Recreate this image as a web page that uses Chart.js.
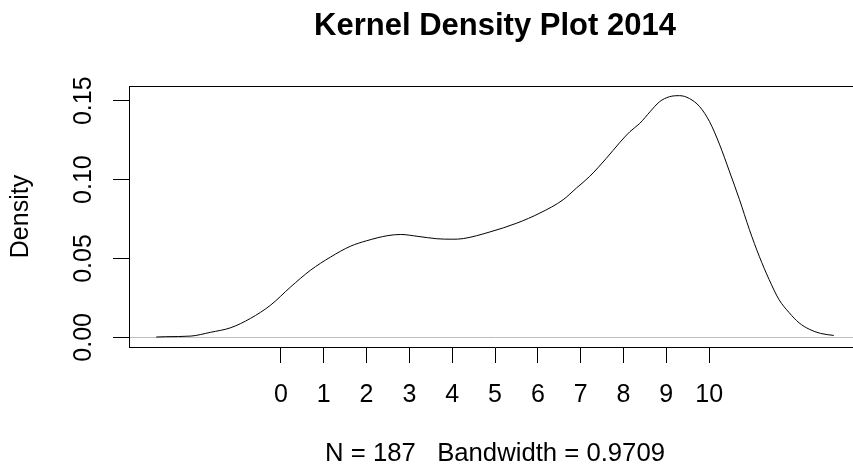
<!DOCTYPE html>
<html><head><meta charset="utf-8">
<script src="https://cdn.jsdelivr.net/npm/chart.js@4.4.1/dist/chart.umd.min.js"></script>
<style>html,body{margin:0;padding:0;background:#fff;overflow:hidden}#wrap{width:853px;height:468px;overflow:hidden}canvas{display:block}</style>
</head><body>
<div id="wrap"><canvas id="c" width="861" height="468"></canvas></div>
<script>
const titleText = 'Kernel Density Plot 2014';
const subtitleText = 'N = 187   Bandwidth = 0.9709';
const yAxisTitle = 'Density';

const densityX = [-2.91, -2.69, -2.1, -1.64, -1.17, -0.71, -0.24, 0.23, 0.69, 1.16, 1.62, 2.0, 2.5, 2.8, 3.2, 3.64, 4.0, 4.26, 4.88, 5.51, 6.05, 6.59, 6.9, 7.21, 7.6, 7.91, 8.15, 8.38, 8.62, 8.84, 9.07, 9.31, 9.54, 9.78, 10.01, 10.24, 10.47, 10.71, 10.94, 11.17, 11.4, 11.63, 11.87, 12.1, 12.34, 12.6, 12.91];
const densityY = [0.0002, 0.0004, 0.0008, 0.0032, 0.0061, 0.012, 0.0204, 0.032, 0.0425, 0.0509, 0.0577, 0.0612, 0.0645, 0.0652, 0.064, 0.0625, 0.0622, 0.0626, 0.0668, 0.0724, 0.0788, 0.0872, 0.0946, 0.102, 0.1135, 0.1234, 0.1304, 0.1356, 0.143, 0.1493, 0.1525, 0.1532, 0.1514, 0.1462, 0.1367, 0.1225, 0.1055, 0.0872, 0.0683, 0.0514, 0.0367, 0.024, 0.0156, 0.0092, 0.0051, 0.0025, 0.0012];

const xTickValues = [0, 1, 2, 3, 4, 5, 6, 7, 8, 9, 10];
const xTickLabels = ['0', '1', '2', '3', '4', '5', '6', '7', '8', '9', '10'];
const yTickValues = [0, 0.05, 0.10, 0.15];
const yTickLabels = ['0.00', '0.05', '0.10', '0.15'];
const xLimits = [-3.546, 13.546];
const yLimits = [-0.00613, 0.15933];

const FONT = "'Liberation Sans', Arial, sans-serif";
Chart.defaults.font.family = FONT;
Chart.defaults.color = '#000';

const boxTop = {
  id: 'boxTop',
  afterDraw(chart) {
    const {ctx, chartArea} = chart;
    ctx.save();
    ctx.strokeStyle = '#000';
    ctx.lineWidth = 1;
    ctx.beginPath();
    ctx.moveTo(chartArea.left, Math.round(chartArea.top) + 0.5);
    ctx.lineTo(chartArea.right, Math.round(chartArea.top) + 0.5);
    ctx.stroke();
    ctx.restore();
  }
};

new Chart(document.getElementById('c'), {
  type: 'scatter',
  data: {
    datasets: [{
      data: densityX.map((x, i) => ({x: x, y: densityY[i]})),
      showLine: true,
      borderColor: '#000',
      borderWidth: 1,
      pointRadius: 0,
      cubicInterpolationMode: 'monotone',
      fill: false
    }]
  },
  options: {
    responsive: false,
    devicePixelRatio: 1,
    animation: false,
    layout: {padding: 0},
    plugins: {
      legend: {display: false},
      tooltip: {enabled: false},
      title: {
        display: true, text: titleText, fullSize: false,
        font: {size: 31, weight: 'bold', family: FONT, lineHeight: 1.2},
        color: '#000',
        padding: {top: 8, bottom: 40.8}
      },
      subtitle: {
        display: true, text: subtitleText, position: 'bottom', fullSize: false,
        font: {size: 25.7, family: FONT, lineHeight: 1.1},
        color: '#000',
        padding: {top: 0, bottom: 0}
      }
    },
    scales: {
      x: {
        type: 'linear', min: xLimits[0], max: xLimits[1],
        afterBuildTicks: s => { s.ticks = xTickValues.map(v => ({value: v})); },
        afterFit: s => { s.height = 468 - 347 - 25.7 * 1.1; },
        grid: {drawOnChartArea: false, drawTicks: true, tickLength: 16, tickColor: '#000', tickWidth: 1},
        border: {display: true, color: '#000', width: 1},
        ticks: {
          autoSkip: false, maxRotation: 0, minRotation: 0, padding: 17.5,
          font: {size: 25, family: FONT}, color: '#000',
          callback: (v, i) => xTickLabels[i]
        }
      },
      y: {
        type: 'linear', min: yLimits[0], max: yLimits[1],
        afterBuildTicks: s => { s.ticks = yTickValues.map(v => ({value: v})); },
        afterFit: s => { s.width = 129; },
        grid: {
          drawOnChartArea: true, drawTicks: true, tickLength: 16, tickColor: '#000', tickWidth: 1,
          color: c => (c.tick && c.tick.value === 0) ? '#bebebe' : 'rgba(0,0,0,0)'
        },
        border: {display: true, color: '#000', width: 1},
        ticks: {
          autoSkip: false, minRotation: 90, maxRotation: 90, crossAlign: 'center', padding: 4.7,
          font: {size: 25, family: FONT}, color: '#000',
          callback: (v, i) => yTickLabels[i]
        },
        title: {
          display: true, text: yAxisTitle, color: '#000',
          font: {size: 25, family: FONT, lineHeight: 1.2},
          padding: {top: 6.5, bottom: 0}
        }
      }
    }
  },
  plugins: [boxTop]
});
</script>
</body></html>
